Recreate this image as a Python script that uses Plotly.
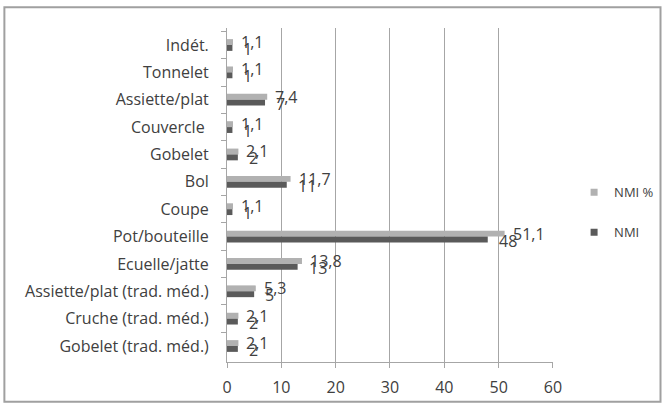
import plotly.graph_objects as go

# Vessel categories, listed from top to bottom of the chart
categories = [
    "Indét.", "Tonnelet", "Assiette/plat", "Couvercle ", "Gobelet", "Bol",
    "Coupe", "Pot/bouteille", "Ecuelle/jatte", "Assiette/plat (trad. méd.)",
    "Cruche (trad. méd.)", "Gobelet (trad. méd.)",
]
nmi = [1, 1, 7, 1, 2, 11, 1, 48, 13, 5, 2, 2]
nmi_pct = [1.1, 1.1, 7.4, 1.1, 2.1, 11.7, 1.1, 51.1, 13.8, 5.3, 2.1, 2.1]
x_ticks = [0, 10, 20, 30, 40, 50, 60]

LIGHT = "#b1b1b1"
DARK = "#5a5a5a"
TEXT = "#404040"
FONT = "Open Sans"


def fr(v):
    """French decimal formatting: 1.1 -> '1,1'."""
    return f"{v:g}".replace(".", ",")


fig = go.Figure()
fig.add_trace(go.Bar(
    y=categories, x=nmi_pct, orientation="h", name="NMI %",
    marker=dict(color=LIGHT, line=dict(width=0)), showlegend=False,
))
fig.add_trace(go.Bar(
    y=categories, x=nmi, orientation="h", name="NMI",
    marker=dict(color=DARK, line=dict(width=0)), showlegend=False,
))

# Legend entries with small square swatches
for name, col in [("NMI %", LIGHT), ("NMI", DARK)]:
    fig.add_trace(go.Scatter(
        x=[None], y=[None], mode="markers", name=name, legendgroup=name,
        marker=dict(symbol="square", size=7, color=col),
    ))

# Value labels at the end of each bar
ann = []
for cat, v in zip(categories, nmi_pct):
    ann.append(dict(x=v, y=cat, text=fr(v), xanchor="left", yanchor="middle",
                    xshift=6, yshift=3, showarrow=False,
                    font=dict(family=FONT, size=16, color=TEXT)))
for cat, v in zip(categories, nmi):
    ann.append(dict(x=v, y=cat, text=fr(v), xanchor="left", yanchor="middle",
                    xshift=9, yshift=-4, showarrow=False,
                    font=dict(family=FONT, size=16, color=TEXT)))

fig.update_layout(
    width=666, height=410,
    margin=dict(l=227, r=113, t=28, b=45),
    paper_bgcolor="white", plot_bgcolor="white",
    barmode="group", bargap=0.57, bargroupgap=0,
    font=dict(family=FONT, size=16, color=TEXT),
    annotations=ann,
    showlegend=True,
    legend=dict(xref="container", yref="container", x=0.862, y=0.482,
                xanchor="left", yanchor="middle",
                tracegroupgap=20, font=dict(family=FONT, size=13, color=TEXT),
                itemwidth=30, bgcolor="rgba(0,0,0,0)"),
    shapes=[dict(type="rect", xref="paper", yref="paper",
                 x0=-0.683, x1=1.33, y0=-0.119, y1=1.062,
                 line=dict(color="#a0a0a0", width=2), layer="below")],
)

fig.update_xaxes(
    range=[0, 60], tickvals=x_ticks, showgrid=True, gridcolor="#a6a6a6",
    gridwidth=1, zeroline=False, showline=True, linecolor="#a6a6a6",
    ticks="outside", ticklen=5, tickcolor="#a6a6a6", ticklabelstandoff=6,
    tickfont=dict(family=FONT, size=16, color=TEXT), fixedrange=True,
)
fig.update_yaxes(
    autorange="reversed", type="category", showgrid=False, zeroline=False,
    showline=True, linecolor="#a6a6a6", ticks="outside", ticklen=5,
    tickcolor="#a6a6a6", tickson="boundaries", ticklabelstandoff=14,
    tickfont=dict(family=FONT, size=16, color=TEXT),
    fixedrange=True,
)

fig.write_html("out.html")
